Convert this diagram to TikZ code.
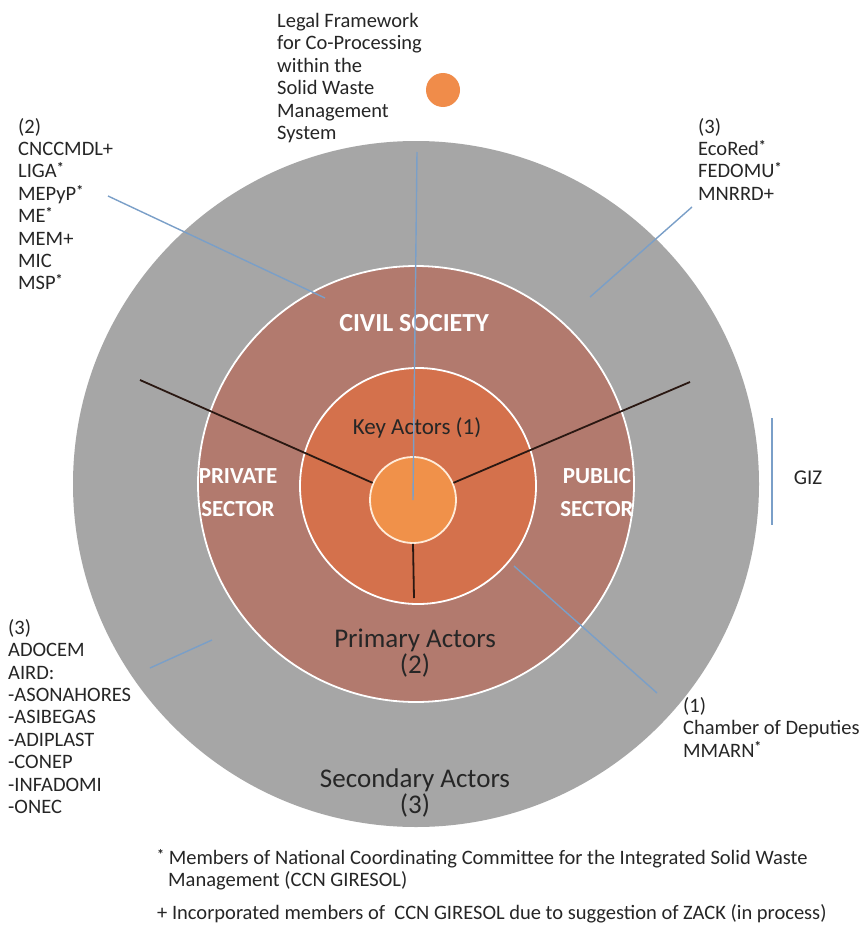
\documentclass[tikz,border=0pt]{standalone}
\usepackage{fontspec}
\setmainfont{Carlito}
\definecolor{greyring}{HTML}{A6A6A6}
\definecolor{mauve}{HTML}{B27A6E}
\definecolor{innerc}{HTML}{D4714C}
\definecolor{corec}{HTML}{F0914A}
\definecolor{bluel}{HTML}{7A9FC8}
\definecolor{dotc}{HTML}{F08C4A}
\definecolor{txt}{HTML}{262626}
\definecolor{sectline}{HTML}{2A1812}
\newcommand{\mstar}{\raisebox{0.25em}{\fontsize{14}{14}\selectfont\textbf{*}}}
\begin{document}
\begin{tikzpicture}[x=1pt,y=-1pt,
  lbl/.style={inner sep=0pt, text=txt, align=left, font=\fontsize{20.5}{22.4}\selectfont},
  ring/.style={circle, inner sep=0pt, draw=white, line width=1.8pt},
  blueline/.style={draw=bluel, line width=1.4pt},
  sectorline/.style={draw=sectline, line width=1.8pt},
  whitebold/.style={inner sep=0pt, text=white, align=center, font=\fontsize{26}{33}\selectfont\bfseries},
  ringlabel/.style={inner sep=0pt, text=txt, align=center, font=\fontsize{27}{26}\selectfont}
]
\useasboundingbox (0,0) rectangle (864,942);
\fill[white] (0,0) rectangle (864,942);

% circles
\node[circle, inner sep=0pt, fill=greyring, minimum size=686pt] (outer) at (416,484) {};
\node[ring, fill=mauve, minimum size=436pt] (mid) at (416,484) {};
\node[ring, fill=innerc, minimum size=236pt] (inner) at (418,486) {};
\node[ring, draw=white!85!orange, fill=corec, minimum size=86pt] (core) at (413,500) {};

% sector lines
\coordinate (secR) at (690,382);
\coordinate (secL) at (140,380);
\coordinate (secB) at (414,598);
\draw[sectorline] (core.23) -- (secR);
\draw[sectorline] (core.157) -- (secL);
\draw[sectorline] (core.270) -- (secB);

% labels in rings
\node[whitebold] (civil) at (414,323) {CIVIL SOCIETY};
\node[whitebold, font=\fontsize{23}{33}\selectfont\bfseries] (private) at (238,493) {PRIVATE\\SECTOR};
\node[whitebold, font=\fontsize{23}{33}\selectfont\bfseries] (public) at (597,493) {PUBLIC\\SECTOR};
\node[ringlabel, font=\fontsize{23}{25}\selectfont] (key) at (417,428) {Key Actors (1)};
\node[ringlabel] (primary) at (415,653) {Primary Actors\\(2)};
\node[ringlabel] (secondary) at (415,793) {Secondary Actors\\(3)};

% legal framework
\node[lbl, anchor=north west] (legal) at (277,13) {Legal Framework\\for Co-Processing\\within the\\Solid Waste\\Management\\System};
\node[circle, inner sep=0pt, fill=dotc, minimum size=34pt] (dot) at (443,90) {};
\coordinate (legalend) at (417,152);
\draw[blueline] (legalend) -- (core.center);

% group (2)
\node[lbl, anchor=north west] (grp2) at (18,118) {(2)\\CNCCMDL+\\LIGA\mstar\\MEPyP\mstar\\ME\mstar\\MEM+\\MIC\\MSP\mstar};
\coordinate (g2s) at (108,196);
\coordinate (g2e) at (325,298);
\draw[blueline] (g2s) -- (g2e);

% group (3) top right
\node[lbl, anchor=north west] (grp3a) at (698,118) {(3)\\EcoRed\mstar\\FEDOMU\mstar\\MNRRD+};
\coordinate (g3s) at (692,207);
\coordinate (g3e) at (590,297);
\draw[blueline] (g3s) -- (g3e);

% GIZ
\coordinate (gizt) at (772,418);
\coordinate (gizb) at (772,525);
\draw[blueline] (gizt) -- (gizb);
\node[lbl, font=\fontsize{21}{24}\selectfont] (giz) at (808,478) {GIZ};

% group (3) bottom left
\node[lbl, anchor=north west] (grp3b) at (8,619) {(3)\\ADOCEM\\AIRD:\\-ASONAHORES\\-ASIBEGAS\\-ADIPLAST\\-CONEP\\-INFADOMI\\-ONEC};
\coordinate (g3bs) at (150,668);
\coordinate (g3be) at (212,640);
\draw[blueline] (g3bs) -- (g3be);

% group (1)
\node[lbl, anchor=north west] (grp1) at (683,697) {(1)\\Chamber of Deputies\\MMARN\mstar};
\coordinate (g1s) at (657,693);
\coordinate (g1e) at (514,566);
\draw[blueline] (g1s) -- (g1e);

% footnotes
\node[lbl, anchor=north west] (fn1) at (157,849) {\mstar\ Members of National Coordinating Committee for the Integrated Solid Waste\\\hspace*{11pt}Management (CCN GIRESOL)};
\node[lbl, anchor=north west] (fn2) at (157,904) {+ Incorporated members of\ \ CCN GIRESOL due to suggestion of ZACK (in process)};
\end{tikzpicture}
\end{document}
